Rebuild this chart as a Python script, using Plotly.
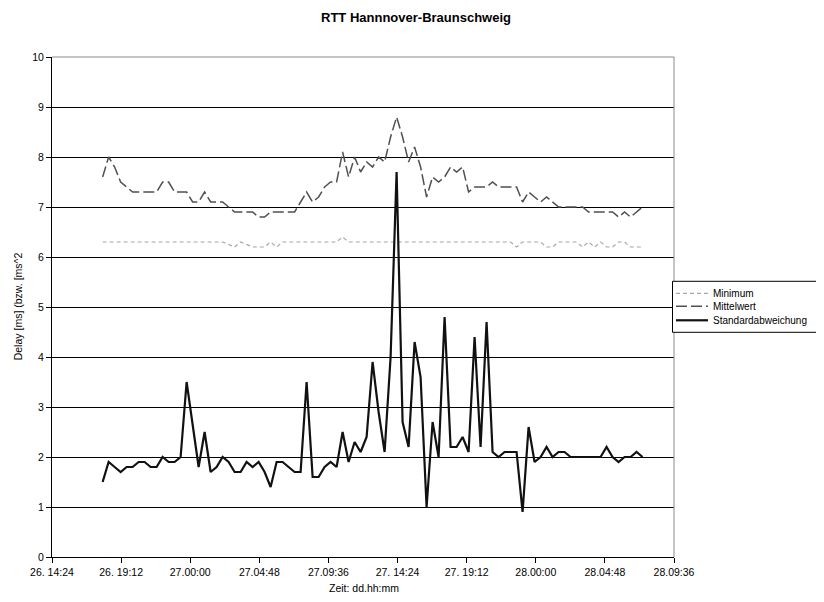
import pandas as pd
import plotly.graph_objects as go

# ---- data ----
start_time = "2004-01-26 17:55"
step = "25min"

standardabweichung = [
    1.5, 1.9, 1.8, 1.7, 1.8, 1.8, 1.9, 1.9, 1.8, 1.8,
    2.0, 1.9, 1.9, 2.0, 3.5, 2.6, 1.8, 2.5, 1.7, 1.8,
    2.0, 1.9, 1.7, 1.7, 1.9, 1.8, 1.9, 1.7, 1.4, 1.9,
    1.9, 1.8, 1.7, 1.7, 3.5, 1.6, 1.6, 1.8, 1.9, 1.8,
    2.5, 1.9, 2.3, 2.1, 2.4, 3.9, 2.9, 2.1, 4.0, 7.7,
    2.7, 2.2, 4.3, 3.6, 1.0, 2.7, 2.0, 4.8, 2.2, 2.2,
    2.4, 2.1, 4.4, 2.2, 4.7, 2.1, 2.0, 2.1, 2.1, 2.1,
    0.9, 2.6, 1.9, 2.0, 2.2, 2.0, 2.1, 2.1, 2.0, 2.0,
    2.0, 2.0, 2.0, 2.0, 2.2, 2.0, 1.9, 2.0, 2.0, 2.1,
    2.0,
]

mittelwert = [
    7.6, 8.0, 7.8, 7.5, 7.4, 7.3, 7.3, 7.3, 7.3, 7.3,
    7.5, 7.5, 7.3, 7.3, 7.3, 7.1, 7.1, 7.3, 7.1, 7.1,
    7.1, 7.0, 6.9, 6.9, 6.9, 6.9, 6.8, 6.8, 6.9, 6.9,
    6.9, 6.9, 6.9, 7.1, 7.3, 7.1, 7.2, 7.4, 7.5, 7.5,
    8.1, 7.6, 8.0, 7.7, 7.9, 7.8, 8.0, 7.9, 8.4, 8.8,
    8.4, 7.9, 8.2, 7.8, 7.2, 7.6, 7.5, 7.6, 7.8, 7.7,
    7.8, 7.3, 7.4, 7.4, 7.4, 7.5, 7.4, 7.4, 7.4, 7.4,
    7.1, 7.3, 7.2, 7.1, 7.2, 7.1, 7.0, 7.0, 7.0, 7.0,
    7.0, 6.9, 6.9, 6.9, 6.9, 6.9, 6.8, 6.9, 6.8, 6.9,
    7.0,
]

minimum = [
    6.3, 6.3, 6.3, 6.3, 6.3, 6.3, 6.3, 6.3, 6.3, 6.3,
    6.3, 6.3, 6.3, 6.3, 6.3, 6.3, 6.3, 6.3, 6.3, 6.3,
    6.3, 6.25, 6.2, 6.3, 6.25, 6.2, 6.2, 6.2, 6.3, 6.2,
    6.3, 6.3, 6.3, 6.3, 6.3, 6.3, 6.3, 6.3, 6.3, 6.3,
    6.4, 6.3, 6.3, 6.3, 6.3, 6.3, 6.3, 6.3, 6.3, 6.3,
    6.3, 6.3, 6.3, 6.3, 6.3, 6.3, 6.3, 6.3, 6.3, 6.3,
    6.3, 6.3, 6.3, 6.3, 6.3, 6.3, 6.3, 6.3, 6.3, 6.2,
    6.3, 6.3, 6.3, 6.3, 6.2, 6.2, 6.3, 6.3, 6.3, 6.3,
    6.2, 6.3, 6.2, 6.3, 6.2, 6.2, 6.3, 6.3, 6.2, 6.2,
    6.2,
]

series_names = ["Minimum", "Mittelwert", "Standardabweichung"]

tick_start = "2004-01-26 14:24"
tick_step = "288min"
tick_labels = [
    "26. 14:24", "26. 19:12", "27.00:00", "27.04:48", "27.09:36",
    "27. 14:24", "27. 19:12", "28.00:00", "28.04:48", "28.09:36",
]
y_ticks = [0, 1, 2, 3, 4, 5, 6, 7, 8, 9, 10]

times = pd.date_range(start=start_time, periods=len(standardabweichung), freq=step)
tick_vals = pd.date_range(start=tick_start, periods=len(tick_labels), freq=tick_step)

FONT_R = "Liberation Sans, Arial, sans-serif"
FONT_T = "Liberation Sans Narrow, Arial Narrow, Liberation Sans, Arial, sans-serif"

styles = [
    dict(color="#a8a8a8", width=1.2, dash="4px,3px"),
    dict(color="#505050", width=1.5, dash="11px,4px"),
    dict(color="#111111", width=2.2),
]
values = [minimum, mittelwert, standardabweichung]

fig = go.Figure()
for name, vals, st in zip(series_names, values, styles):
    fig.add_trace(go.Scatter(x=times, y=vals, mode="lines", name=name,
                             line=st, showlegend=False))

# page is rendered with an 8px body margin -> shift everything by 8px
OFF = 8
W, H = 824, 602
PL, PR, PT, PB = 52, 674, 56.7, 556.7   # plot area in screen pixels
L, R, T, B = PL - OFF, W - (PR - OFF), PT - OFF, H - (PB - OFF)
PW, PH = PR - PL, PB - PT


def px(sx):
    return (sx - PL) / PW


def py(sy):
    return (PB - sy) / PH


# manual legend (compact like the reference)
leg_box = dict(type="rect", xref="paper", yref="paper",
               x0=px(672.5), x1=px(822), y0=py(281), y1=py(332),
               line=dict(color="#000", width=1), fillcolor="white", layer="above")
shapes = [
    dict(type="line", xref="paper", yref="paper", x0=0, x1=1, y0=1, y1=1,
         line=dict(color="#8c8c8c", width=1), layer="above"),
    dict(type="line", xref="paper", yref="paper", x0=1, x1=1, y0=0, y1=1,
         line=dict(color="#8c8c8c", width=1), layer="above"),
    leg_box,
]
annotations = []
leg_y = [293, 306, 320]
for name, st, ly in zip(series_names, styles, leg_y):
    shapes.append(dict(type="line", xref="paper", yref="paper",
                       x0=px(676), x1=px(708), y0=py(ly), y1=py(ly),
                       line=st, layer="above"))
    annotations.append(dict(text=name, xref="paper", yref="paper",
                            x=px(711), y=py(ly), xanchor="left", yanchor="middle",
                            showarrow=False,
                            font=dict(family=FONT_R, size=10, color="#000")))

annotations += [
    dict(text="Delay [ms] (bzw. [ms^2", textangle=-90,
         xref="paper", yref="paper", x=px(18), y=py(306),
         xanchor="center", yanchor="middle", showarrow=False,
         font=dict(family=FONT_R, size=10.5, color="#000")),
    dict(text="Zeit: dd.hh:mm", xref="paper", yref="paper",
         x=px(364), y=py(588), xanchor="center", yanchor="middle", showarrow=False,
         font=dict(family=FONT_R, size=10.5, color="#000")),
]

fig.update_layout(
    width=W, height=H,
    margin=dict(l=L, r=R, t=T, b=B, pad=0),
    paper_bgcolor="white", plot_bgcolor="white",
    showlegend=False,
    title=dict(
        text="<b>RTT Hannnover-Braunschweig</b>",
        x=(416 - OFF) / W, xref="container", xanchor="center",
        y=1 - (17 - OFF) / H, yref="container", yanchor="middle",
        font=dict(family=FONT_T, size=13, color="#000"),
    ),
    xaxis=dict(
        type="date",
        range=[tick_vals[0], tick_vals[-1]],
        tickvals=tick_vals, ticktext=tick_labels,
        showgrid=False, zeroline=False,
        showline=True, linecolor="#000", linewidth=1,
        ticks="outside", ticklen=5, tickcolor="#000",
        tickfont=dict(family=FONT_R, size=10.5, color="#000"),
    ),
    yaxis=dict(
        range=[0, 10], tickvals=y_ticks,
        showgrid=True, gridcolor="#000", gridwidth=1,
        zeroline=False,
        showline=True, linecolor="#000", linewidth=1,
        ticks="outside", ticklen=5, tickcolor="#000",
        tickfont=dict(family=FONT_R, size=10.5, color="#000"),
    ),
    annotations=annotations,
    shapes=shapes,
)

fig.write_html("out.html")
